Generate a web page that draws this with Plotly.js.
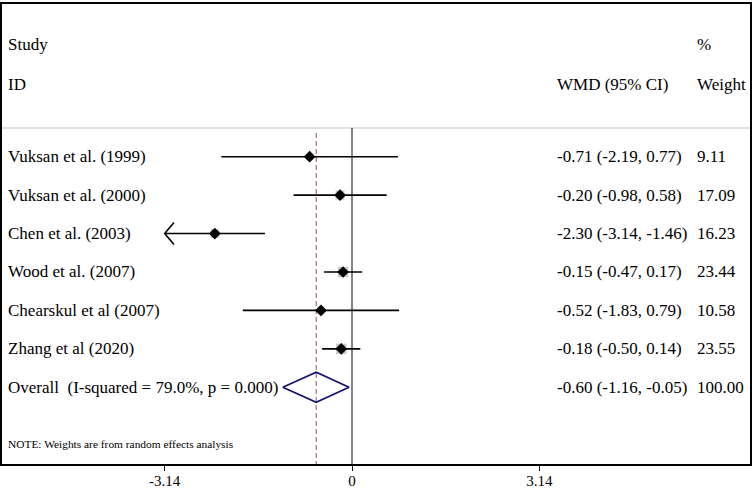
<!DOCTYPE html>
<html>
<head>
<meta charset="utf-8">
<script src="https://cdn.plot.ly/plotly-3.0.1.min.js"></script>
<style>html,body{margin:0;padding:0;background:#fff}#chart{width:752px;height:488px}</style>
</head>
<body>
<div id="chart"></div>
<script>
// ---- data ----
const studies = ["Vuksan et al. (1999)", "Vuksan et al. (2000)", "Chen et al. (2003)", "Wood et al. (2007)", "Chearskul et al (2007)", "Zhang et al (2020)"];
const est = [-0.71, -0.20, -2.30, -0.15, -0.52, -0.18];
const lower = [-2.19, -0.98, -3.14, -0.47, -1.83, -0.50];
const upper = [0.77, 0.58, -1.46, 0.17, 0.79, 0.14];
const weights = [9.11, 17.09, 16.23, 23.44, 10.58, 23.55];
const overallLabel = "Overall  (I-squared = 79.0%, p = 0.000)";
const overallEst = -0.60, overallLower = -1.16, overallUpper = -0.05, overallWeight = 100.00;
const tickVals = [-3.14, 0, 3.14];
const tickText = ["-3.14", "0", "3.14"];
const axisMin = -3.14;

// ---- layout helpers ----
const W = 752, H = 488;
const mL = 2, mR = 2, mT = 4, mB = 24;
const plotW = W - mL - mR, plotH = H - mT - mB;
const zeroPx = 352, pxPerUnit = 59.65;
const xMin = -(zeroPx - mL) / pxPerUnit;
const xMax = xMin + plotW / pxPerUnit;
const row0Px = 156.7, rowStep = 38.43;
const yTop = (mT - row0Px) / rowStep;
const yBot = (H - mB - row0Px) / rowStep;
const pxToY = p => (p - row0Px) / rowStep;
const pxToPaperX = p => (p - mL) / plotW;

const serif = "Liberation Serif, Times New Roman, serif";
const n = studies.length;
const rows = studies.map((_, i) => i);
const overallRow = n;

// CI lines
const ciX = [], ciY = [];
for (let i = 0; i < n; i++) {
  const lo = Math.max(lower[i], axisMin);
  ciX.push(lo, upper[i], null);
  ciY.push(i, i, null);
  if (lower[i] <= axisMin) {
    const dx = 9.3 / pxPerUnit, dy = 11 / rowStep;
    ciX.push(axisMin + dx, axisMin, axisMin + dx, null);
    ciY.push(i - dy, i, i + dy, null);
  }
}

const dh = 15 / rowStep;
const traces = [
  {type: "scatter", mode: "markers", x: est, y: rows, hoverinfo: "skip",
   marker: {symbol: "square", color: "#b4b4b4", size: weights.map(w => 10.5 * Math.sqrt(w / 23.55)), line: {width: 0}}},
  {type: "scatter", mode: "lines", x: ciX, y: ciY, hoverinfo: "skip",
   line: {color: "#000", width: 1.6}},
  {type: "scatter", mode: "markers", x: est, y: rows, hoverinfo: "skip",
   marker: {symbol: "diamond", color: "#000", size: 9, line: {width: 0}}},
  {type: "scatter", mode: "lines", hoverinfo: "skip",
   x: [overallLower, overallEst, overallUpper, overallEst, overallLower],
   y: [overallRow, overallRow - dh, overallRow, overallRow + dh, overallRow],
   line: {color: "#14146e", width: 1.8}}
];

const gridY = pxToY(128);
const shapes = [
  {type: "line", xref: "paper", yref: "y", x0: 0, x1: 1, y0: gridY, y1: gridY, line: {color: "#c4c4c4", width: 1.2}, layer: "below"},
  {type: "line", xref: "x", yref: "y", x0: 0, x1: 0, y0: gridY, y1: yBot, line: {color: "#333", width: 1.2}, layer: "below"},
  {type: "line", xref: "x", yref: "y", x0: overallEst, x1: overallEst, y0: pxToY(133), y1: yBot, line: {color: "#a8707a", width: 1.2, dash: "5px,3px"}, layer: "below"}
];

const f17 = {family: serif, size: 17, color: "#000"};
const annotations = [];
function txt(text, px, y, font) {
  annotations.push({text: text, xref: "paper", yref: "y", x: pxToPaperX(px), y: y, xanchor: "left", yanchor: "middle", showarrow: false, font: font || f17});
}
txt("Study", 6, pxToY(44));
txt("ID", 6, pxToY(84));
txt("%", 695, pxToY(44));
txt("WMD (95% CI)", 555, pxToY(84));
txt("Weight", 695, pxToY(84));
for (let i = 0; i < n; i++) {
  txt(studies[i], 6, i);
  txt(est[i].toFixed(2) + " (" + lower[i].toFixed(2) + ", " + upper[i].toFixed(2) + ")", 555, i);
  txt(weights[i].toFixed(2), 695, i);
}
txt(overallLabel, 6, overallRow);
txt(overallEst.toFixed(2) + " (" + overallLower.toFixed(2) + ", " + overallUpper.toFixed(2) + ")", 555, overallRow);
txt(overallWeight.toFixed(2), 695, overallRow);
txt("NOTE: Weights are from random effects analysis", 6, pxToY(444), {family: serif, size: 11.4, color: "#000"});

const layout = {
  width: W, height: H,
  margin: {l: mL, r: mR, t: mT, b: mB, pad: 0},
  paper_bgcolor: "#fff", plot_bgcolor: "#fff",
  showlegend: false,
  xaxis: {range: [xMin, xMax], showgrid: false, zeroline: false, showline: true, mirror: true,
          linecolor: "#000", linewidth: 1.6, ticks: "outside", ticklen: 5, tickwidth: 1, tickcolor: "#000",
          ticklabelstandoff: -3,
          tickvals: tickVals, ticktext: tickText, tickfont: {family: serif, size: 15, color: "#000"}, fixedrange: true},
  yaxis: {range: [yBot, yTop], showgrid: false, zeroline: false, showline: true, mirror: true,
          linecolor: "#000", linewidth: 1.6, showticklabels: false, ticks: "", fixedrange: true},
  shapes: shapes,
  annotations: annotations
};
Plotly.newPlot("chart", traces, layout, {staticPlot: true, displayModeBar: false});
</script>
</body>
</html>
